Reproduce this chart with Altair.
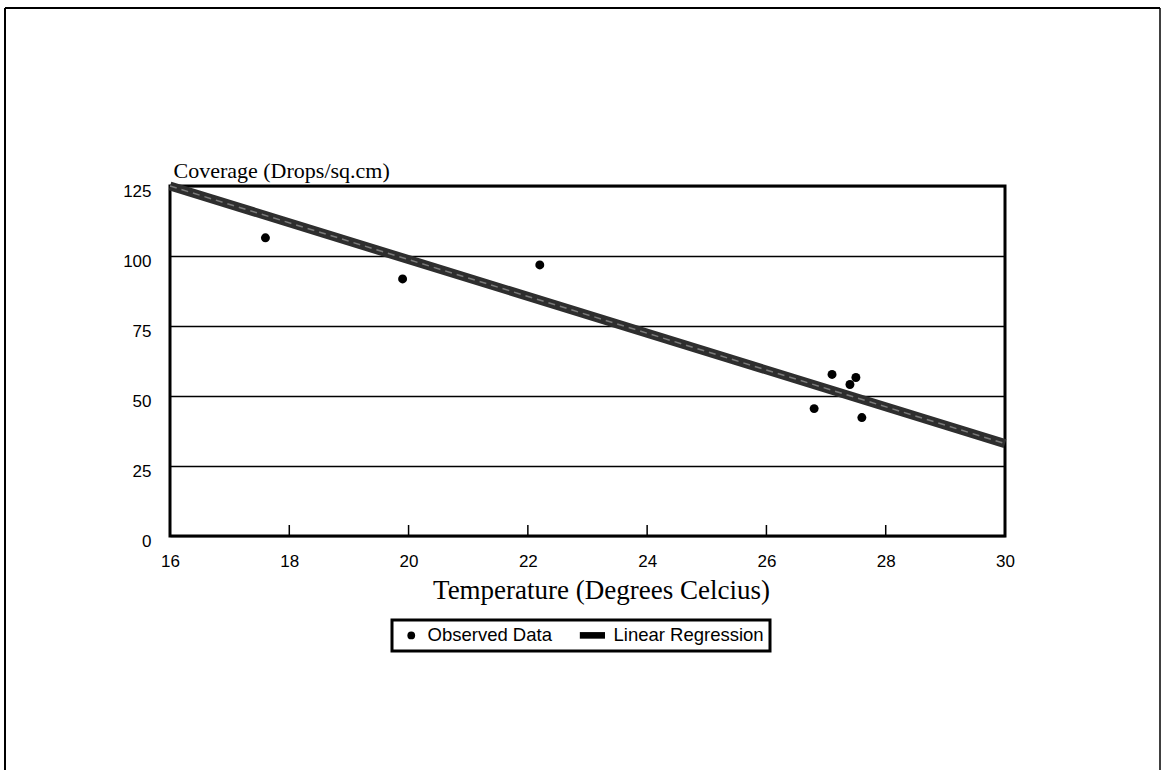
import altair as alt
import pandas as pd

temperature = [17.6, 19.9, 22.2, 26.8, 27.1, 27.4, 27.5, 27.6]
coverage = [106.5, 91.8, 96.8, 45.5, 57.7, 54.1, 56.6, 42.3]

# Linear regression end points
fit_temperature = [16, 30]
fit_coverage = [125, 33]

x_ticks = [16, 18, 20, 22, 24, 26, 28, 30]
y_ticks = [0, 25, 50, 75, 100, 125]
inner_ticks = [18, 20, 22, 24, 26, 28]
series = ["Observed Data", "Linear Regression"]

W, H = 835, 350

obs = pd.DataFrame({"t": temperature, "c": coverage, "series": series[0]})
fit = pd.DataFrame({"t": fit_temperature, "c": fit_coverage})
ticks = pd.DataFrame({"t": inner_ticks})
one = pd.DataFrame({"a": [0]})

xscale = alt.Scale(domain=[16, 30], nice=False, zero=False)
yscale = alt.Scale(domain=[0, 125], nice=False)

x_axis = alt.Axis(
    values=x_ticks, format="d", title="Temperature (Degrees Celcius)", grid=False, domain=False,
    ticks=False, labelFont="Liberation Sans", labelFontSize=17, labelColor="black",
    labelPadding=17, labelFlush=False,
    titleFont="Liberation Serif", titleFontSize=27, titleFontWeight="normal", titleColor="black",
    titleX=431, titleY=62, titleAlign="center", titleBaseline="alphabetic",
)
y_axis = alt.Axis(
    values=y_ticks, format="d", title="Coverage (Drops/sq.cm)", grid=True, gridColor="black",
    gridWidth=1.3, gridOpacity=1, domain=False, ticks=False,
    labelFont="Liberation Sans", labelFontSize=17, labelColor="black",
    labelPadding=19, labelOffset=5, labelFlush=False,
    titleFont="Liberation Serif", titleFontSize=22, titleFontWeight="normal", titleColor="black",
    titleAngle=0, titleX=3, titleY=-9, titleAlign="left", titleBaseline="alphabetic",
)

bar_path = "M-4.5,-0.85L2,-0.85L2,0.85L-4.5,0.85Z"

base_line = alt.Chart(fit).mark_line(color="#2e2e2e", strokeWidth=9).encode(
    x=alt.X("t:Q", scale=xscale, axis=x_axis),
    y=alt.Y("c:Q", scale=yscale, axis=y_axis),
)
streak = alt.Chart(fit).mark_line(color="#7a7a7a", strokeWidth=1.5, strokeDash=[7, 5]).encode(
    x=alt.X("t:Q", scale=xscale), y=alt.Y("c:Q", scale=yscale)
)

points = alt.Chart(obs).mark_point(filled=True, color="black", size=80, opacity=1).encode(
    x=alt.X("t:Q", scale=xscale),
    y=alt.Y("c:Q", scale=yscale),
    shape=alt.Shape(
        "series:N",
        scale=alt.Scale(domain=series, range=["circle", bar_path]),
        legend=alt.Legend(
            title=None, orient="none", legendX=222, legendY=434, direction="horizontal",
            columns=2, columnPadding=27, padding=6, strokeColor="black",
            fillColor="white", symbolSize=60, symbolOffset=4, symbolFillColor="black",
            symbolStrokeColor="black", symbolStrokeWidth=0, labelFont="Liberation Sans",
            labelFontSize=18.5, labelColor="black", labelOffset=7,
        ),
    ),
)

inner = alt.Chart(ticks).mark_rule(color="black", strokeWidth=1.5).encode(
    x=alt.X("t:Q", scale=xscale), y=alt.value(H - 11), y2=alt.value(H)
)

frame_top = alt.Chart(one).mark_rule(color="black", strokeWidth=2).encode(
    x=alt.value(-165), x2=alt.value(990), y=alt.value(-178)
)
frame_left = alt.Chart(one).mark_rule(color="black", strokeWidth=2).encode(
    x=alt.value(-165), y=alt.value(-178), y2=alt.value(600)
)
frame_right = alt.Chart(one).mark_rule(color="black", strokeWidth=1.5).encode(
    x=alt.value(990), y=alt.value(-178), y2=alt.value(600)
)

chart = (
    alt.layer(base_line, streak, inner, points, frame_top, frame_left, frame_right)
    .properties(
        width=W, height=H,
        autosize=alt.AutoSizeParams(type="none"),
        padding={"left": 170, "top": 186, "right": 159, "bottom": 234},
        background="white",
    )
    .configure_view(stroke="black", strokeWidth=3)
    .configure_legend(strokeWidth=3)
)

chart.save("out.html", embed_options={"renderer": "svg", "actions": False})
